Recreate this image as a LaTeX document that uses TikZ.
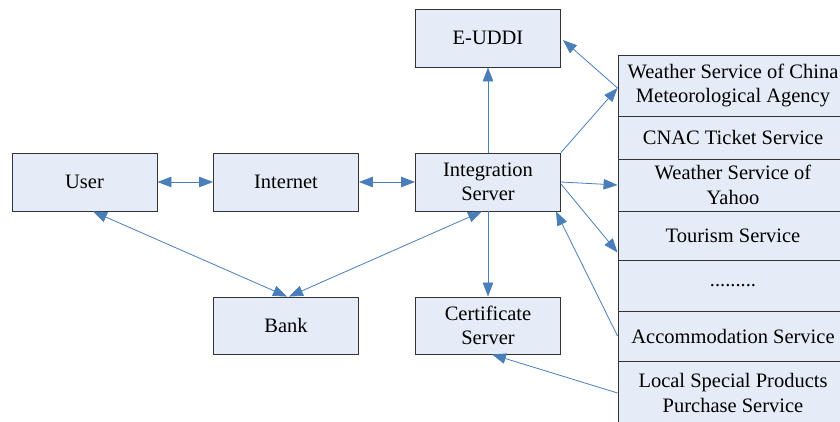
\documentclass[tikz,border=0pt]{standalone}
\usepackage{fontspec}
\setmainfont{Liberation Serif}
\usetikzlibrary{arrows.meta,calc}
\definecolor{boxfill}{HTML}{E6ECF7}
\definecolor{boxline}{HTML}{333333}
\definecolor{arr}{HTML}{4A7EBB}
\begin{document}
\begin{tikzpicture}[x=1pt,y=-1pt,
  box/.style={draw=boxline,fill=boxfill,line width=0.9pt,minimum width=145pt,minimum height=58pt,inner sep=0pt,align=center,font=\fontsize{20.5}{24.5}\selectfont},
  sbox/.style={draw=boxline,fill=boxfill,line width=0.9pt,minimum width=230pt,inner sep=0pt,align=center,font=\fontsize{20.5}{24.5}\selectfont},
  conn/.style={draw=arr,line width=0.8pt},
  tip/.style={-{Triangle[length=14pt,width=10.5pt]}},
  tips/.style={{Triangle[length=14pt,width=10.5pt]}-{Triangle[length=14pt,width=10.5pt]}}]
\useasboundingbox (0,0) rectangle (840,421);
\begin{scope}
\clip (0,0) rectangle (840,421);
\node[box] (user) at (84.5,182) {User};
\node[box] (internet) at (286,182) {Internet};
\node[box] (integ) at (488,182) {Integration\\Server};
\node[box] (euddi) at (488,38) {E-UDDI};
\node[box, minimum height=57pt] (bank) at (286,325.5) {Bank};
\node[box, minimum height=57pt] (cert) at (488,325.5) {Certificate\\Server};
\node[sbox, minimum height=61pt] (wc) at (733,85.5) {Weather Service of China\\Meteorological Agency};
\node[sbox, minimum height=43pt] (cnac) at (733,137.5) {CNAC Ticket Service};
\node[sbox, minimum height=52pt] (yahoo) at (733,185) {Weather Service of\\Yahoo};
\node[sbox, minimum height=49pt] (tour) at (733,235.5) {Tourism Service};
\node[sbox, minimum height=51pt] (dots) at (733,285.5) {.........};
\node[sbox, minimum height=50pt] (acc) at (733,336) {Accommodation Service};
\node[sbox, minimum height=64pt] (local) at (733,393) {Local Special Products\\Purchase Service};
\end{scope}
\draw[conn,tips] (user.east) -- (internet.west);
\draw[conn,tips] (internet.east) -- (integ.west);
\draw[conn,tip] (integ.north) -- (euddi.south);
\draw[conn,tip] (integ.south) -- (cert.north);
\draw[conn,tips] ($(user.south)+(8.5,0)$) -- ($(bank.north)+(1,0)$);
\draw[conn,tips] ($(integ.south)+(-6,0)$) -- ($(bank.north)+(3,0)$);
\draw[conn,tip] (integ.north east) -- ($(wc.west)+(0,2.5)$);
\draw[conn,tip] ($(wc.west)+(0,2.5)$) -- ($(euddi.east)+(2,2)$);
\draw[conn,tip] (integ.east) -- (yahoo.west);
\draw[conn,tip] ($(integ.east)+(0,2)$) -- ($(tour.south west)+(0,-8)$);
\draw[conn,tip] (acc.west) -- ($(integ.south east)+(-5,0)$);
\draw[conn,tip] (local.west) -- ($(cert.south)+(4,0)$);
\end{tikzpicture}
\end{document}
